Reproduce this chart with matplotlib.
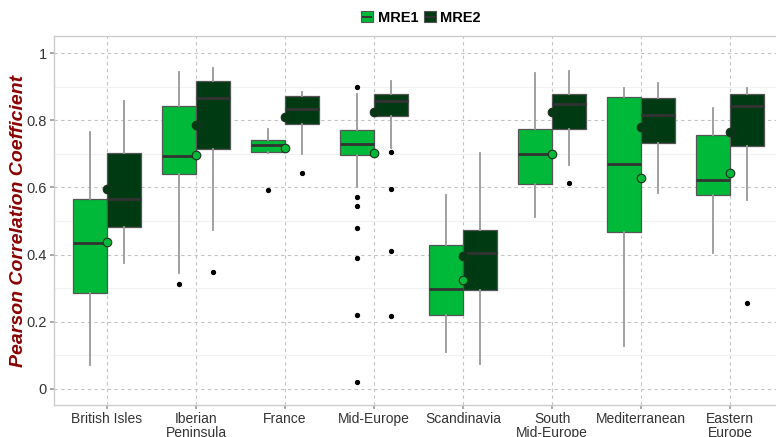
import matplotlib
matplotlib.use("Agg")
import matplotlib.pyplot as plt
from matplotlib.patches import Patch, Rectangle
from matplotlib.lines import Line2D
from matplotlib.legend_handler import HandlerPatch

plt.rcParams["font.family"] = ["Liberation Sans", "DejaVu Sans"]

regions = ["British Isles", "Iberian\nPeninsula", "France", "Mid-Europe", "Scandinavia",
           "South\nMid-Europe", "Mediterranean", "Eastern\nEurope"]
series = ["MRE1", "MRE2"]
colors = {"MRE1": "#00b938", "MRE2": "#003a12"}

# box statistics per region
mre1_whislo = [0.070, 0.346, 0.703, 0.601, 0.110, 0.513, 0.129, 0.406]
mre1_q1 = [0.285, 0.641, 0.706, 0.698, 0.219, 0.609, 0.467, 0.576]
mre1_med = [0.435, 0.695, 0.726, 0.730, 0.299, 0.701, 0.670, 0.623]
mre1_q3 = [0.566, 0.842, 0.740, 0.772, 0.429, 0.773, 0.870, 0.755]
mre1_whishi = [0.766, 0.943, 0.773, 0.877, 0.577, 0.940, 0.895, 0.838]
mre1_mean = [0.437, 0.696, 0.718, 0.702, 0.323, 0.700, 0.628, 0.644]
mre1_fliers = [[], [0.312], [0.593], [0.900, 0.572, 0.544, 0.478, 0.390, 0.220, 0.021],
               [], [], [], []]

mre2_whislo = [0.374, 0.473, 0.700, 0.716, 0.073, 0.667, 0.584, 0.562]
mre2_q1 = [0.482, 0.715, 0.789, 0.813, 0.294, 0.775, 0.733, 0.722]
mre2_med = [0.566, 0.865, 0.833, 0.858, 0.406, 0.849, 0.815, 0.842]
mre2_q3 = [0.703, 0.918, 0.873, 0.879, 0.473, 0.877, 0.866, 0.879]
mre2_whishi = [0.858, 0.956, 0.884, 0.917, 0.703, 0.948, 0.912, 0.896]
mre2_mean = [0.594, 0.787, 0.811, 0.824, 0.395, 0.824, 0.781, 0.765]
mre2_fliers = [[], [0.348], [0.643], [0.705, 0.594, 0.411, 0.217], [], [0.612], [], [0.256]]

data = {
    "MRE1": (mre1_whislo, mre1_q1, mre1_med, mre1_q3, mre1_whishi, mre1_mean, mre1_fliers),
    "MRE2": (mre2_whislo, mre2_q1, mre2_med, mre2_q3, mre2_whishi, mre2_mean, mre2_fliers),
}

fig = plt.figure(figsize=(7.76, 4.37), dpi=100)
ax = fig.add_axes([0.0691, 0.0732, 0.9407, 0.8444])

box_w = 0.382
offsets = {"MRE1": -box_w / 2, "MRE2": box_w / 2}
centers = list(range(1, len(regions) + 1))

for s in series:
    lo, q1, med, q3, hi, mean, fl = data[s]
    stats = [dict(whislo=lo[i], q1=q1[i], med=med[i], q3=q3[i], whishi=hi[i],
                  mean=mean[i], fliers=fl[i]) for i in range(len(regions))]
    pos = [c + offsets[s] for c in centers]
    ax.bxp(stats, positions=pos, widths=box_w, patch_artist=True, showcaps=False,
           showmeans=False, manage_ticks=False,
           boxprops=dict(facecolor=colors[s], edgecolor="#555555", linewidth=0.9),
           medianprops=dict(color="#333333", linewidth=2.0),
           whiskerprops=dict(color="#999999", linewidth=1.3),
           flierprops=dict(marker="o", markersize=2.8, markerfacecolor="black",
                           markeredgecolor="black"),
           zorder=3)
    # mean markers sit at the middle of each region
    ax.scatter(centers, mean, s=38, color=colors[s], edgecolors="#1f2f1f",
               linewidths=0.8, zorder=5)

ax.set_xlim(0.4, len(regions) + 0.6)
ax.set_ylim(-0.048, 1.051)
ax.set_xticks(centers)
ax.set_xticklabels(regions, fontsize=10, color="#333333", linespacing=1.0)
ax.set_yticks([0, 0.2, 0.4, 0.6, 0.8, 1.0])
ax.set_yticklabels(["0", "0.2", "0.4", "0.6", "0.8", "1"], fontsize=10.5, color="#333333")
ax.set_yticks([0.1, 0.3, 0.5, 0.7, 0.9], minor=True)
ax.tick_params(axis="both", which="major", length=3, width=1.2, color="#999999", pad=2)
ax.tick_params(axis="y", which="minor", length=0)

ax.grid(True, which="major", axis="both", color="#c4c4c4", linestyle=(0, (3, 3)),
        linewidth=0.8, zorder=0)
ax.grid(True, which="minor", axis="y", color="#f2f2f2", linestyle="-", linewidth=0.8, zorder=0)
ax.set_axisbelow(True)
for sp in ax.spines.values():
    sp.set_color("#cccccc")
    sp.set_linewidth(1.0)

ax.set_ylabel("Pearson Correlation Coefficient", fontsize=14, fontweight="bold",
              fontstyle="italic", color="#8b0000")
ax.yaxis.set_label_coords(-0.036, 0.5)


class BoxKey(HandlerPatch):
    def create_artists(self, legend, orig_handle, xdescent, ydescent, width, height,
                       fontsize, trans):
        x0, y0 = -xdescent, -ydescent
        p = Rectangle((x0, y0), width, height,
                      facecolor=orig_handle.get_facecolor(), edgecolor="#555555",
                      linewidth=0.8, transform=trans)
        ln = Line2D([x0 + 0.5, x0 + width - 0.5], [y0 + height / 2] * 2,
                    color="#333333", linewidth=1.4, solid_capstyle="butt",
                    transform=trans)
        return [p, ln]


handles = [Patch(facecolor=colors[s]) for s in series]
fig.legend(handles, series, loc="center", bbox_to_anchor=(0.5425, 0.959), ncol=2,
           frameon=False, handler_map={Patch: BoxKey()}, handlelength=0.8,
           handleheight=0.8, handletextpad=0.3, columnspacing=0.4,
           prop=dict(weight="bold", size=10.5))

fig.savefig("out.png", dpi=100)
